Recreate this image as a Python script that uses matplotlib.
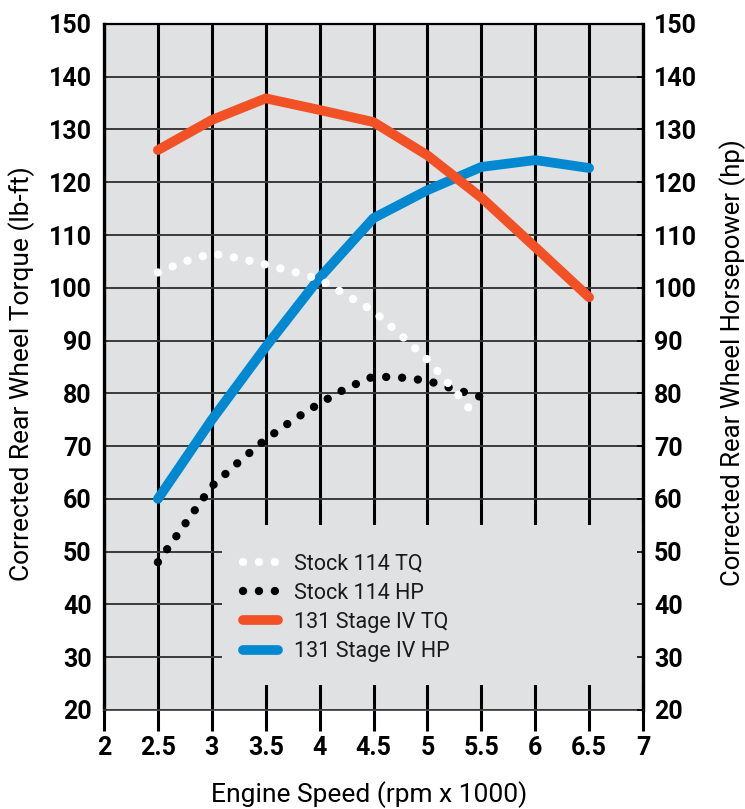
import matplotlib
matplotlib.use("Agg")
import matplotlib.pyplot as plt
from matplotlib.patches import Rectangle

# ---------- data ----------
rpm_stock = [2.5, 2.75, 3.0, 3.25, 3.5, 3.75, 4.0, 4.25, 4.5, 4.75, 5.0, 5.25, 5.4]
stock_tq = [102.9, 105.0, 106.5, 105.6, 104.4, 103.1, 101.6, 98.6, 95.6, 91.1, 86.4, 80.6, 76.8]

rpm_stock_hp = [2.5, 2.75, 3.0, 3.25, 3.5, 3.75, 4.0, 4.25, 4.5, 4.75, 5.0, 5.25, 5.5]
stock_hp = [48.0, 55.2, 62.4, 67.0, 71.3, 74.9, 78.1, 81.0, 83.2, 83.0, 82.4, 80.8, 79.3]

rpm_stage = [2.5, 3.0, 3.5, 4.0, 4.5, 5.0, 5.5, 6.0, 6.5]
stage_tq = [126.1, 131.8, 135.9, 133.7, 131.4, 125.1, 117.1, 107.7, 98.2]
stage_hp = [60.0, 75.0, 88.8, 101.9, 113.2, 118.5, 122.9, 124.2, 122.7]

x_ticks = [2, 2.5, 3, 3.5, 4, 4.5, 5, 5.5, 6, 6.5, 7]
x_ticklabels = ["2", "2.5", "3", "3.5", "4", "4.5", "5", "5.5", "6", "6.5", "7"]
y_ticks = list(range(20, 151, 10))

labels = ["Stock 114 TQ", "Stock 114 HP", "131 Stage IV TQ", "131 Stage IV HP"]

# ---------- style ----------
BG = "#e0e1e3"
ORANGE = "#f15124"
BLUE = "#0089d0"
plt.rcParams["font.family"] = ["Roboto", "DejaVu Sans"]

fig = plt.figure(figsize=(7.45, 8.09), dpi=100)
ax = fig.add_axes([0.1396, 0.1224, 0.7235, 0.848])
ax.set_facecolor(BG)
ax.set_axisbelow(True)

ax.set_xlim(2, 7)
ax.set_ylim(20, 150)
ax.set_xticks(x_ticks)
ax.set_xticklabels(x_ticklabels)
ax.set_yticks(y_ticks)

# grid: heavy black verticals, thinner grey horizontals
ax.xaxis.grid(True, color="black", lw=2.2)
ax.yaxis.grid(True, color="#3a3a3a", lw=1.4)

ax.tick_params(axis="x", direction="out", length=15, width=2.2, pad=4,
               labelsize=18)
ax.tick_params(axis="y", length=0, pad=9, labelsize=18)
for t in ax.get_xticklabels() + ax.get_yticklabels():
    t.set_fontweight("bold")

for side in ["left", "right"]:
    ax.spines[side].set_linewidth(2.4)
    ax.spines[side].set_color("black")
ax.spines["top"].set_linewidth(1.6)
ax.spines["bottom"].set_linewidth(1.2)
ax.spines["bottom"].set_color("#3a3a3a")

# legend background hides the grid in the lower right
ax.add_patch(Rectangle((0.219, 0.036), 0.781, 0.234, transform=ax.transAxes,
                       facecolor=BG, edgecolor="none", zorder=1))

# ---------- series ----------
dot = (0, (0.01, 1.9))
h1, = ax.plot(rpm_stock, stock_tq, color="white", lw=6, linestyle=dot,
              dash_capstyle="round", zorder=6)
h2, = ax.plot(rpm_stock_hp, stock_hp, color="black", lw=6, linestyle=dot,
              dash_capstyle="round", zorder=5)
h3, = ax.plot(rpm_stage, stage_tq, color=ORANGE, lw=7,
              solid_capstyle="round", solid_joinstyle="round", zorder=4)
h4, = ax.plot(rpm_stage, stage_hp, color=BLUE, lw=7,
              solid_capstyle="round", solid_joinstyle="round", zorder=3)

# ---------- right axis (hp) ----------
ax2 = ax.twinx()
ax2.set_ylim(20, 150)
ax2.set_yticks(y_ticks)
ax2.tick_params(axis="y", direction="in", length=4.5, width=1.2, pad=8,
                labelsize=18)
for t in ax2.get_yticklabels():
    t.set_fontweight("bold")
for s in ax2.spines.values():
    s.set_visible(False)

ax.set_xlabel("Engine Speed (rpm x 1000)", fontsize=19, va="center")
ax.xaxis.set_label_coords(0.492, -0.124)
ax.set_ylabel("Corrected Rear Wheel Torque (lb-ft)", fontsize=19, va="center")
ax.yaxis.set_label_coords(-0.152, 0.490)
ax2.set_ylabel("Corrected Rear Wheel Horsepower (hp)", fontsize=18.5, va="center")
ax2.yaxis.set_label_coords(1.167, 0.507)

leg = ax2.legend([h1, h2, h3, h4], labels, loc="upper left",
                 bbox_to_anchor=(0.257, 0.228), frameon=False, fontsize=15.5,
                 handlelength=1.65, handletextpad=0.72, labelspacing=0.38,
                 borderpad=0, borderaxespad=0)
for t in leg.get_texts():
    t.set_color("#1a1a1a")

fig.savefig("out.png", dpi=100, facecolor="white")
